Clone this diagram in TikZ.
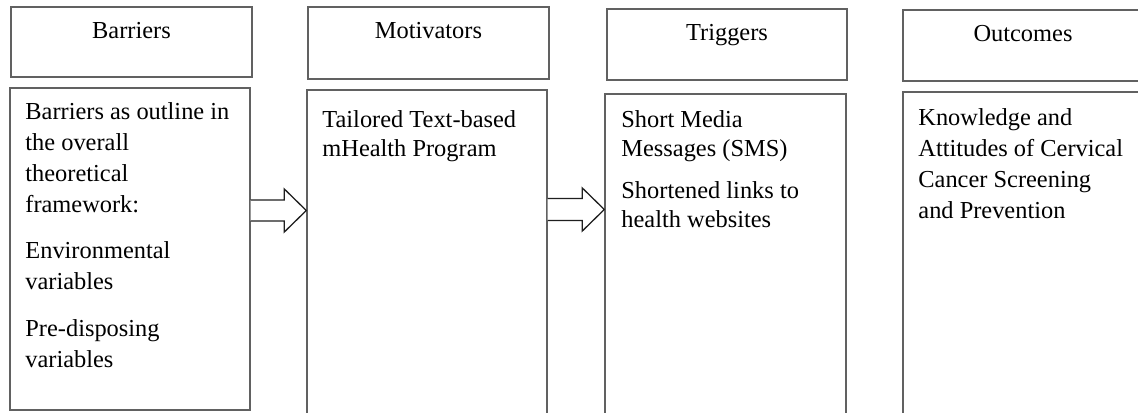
\documentclass[tikz,border=0pt]{standalone}
\usepackage{fontspec}
\setmainfont{Liberation Serif}
\usetikzlibrary{fit,calc}
\newcommand\txtsize{\fontsize{12.2}{15.5}\selectfont}
\newcommand\txtsizeb{\fontsize{12.2}{14.5}\selectfont}
\tikzset{
  box/.style={draw=black!62, line width=0.7pt, inner sep=0pt},
  hdr/.style={font=\txtsize, anchor=base, inner sep=0pt},
  body/.style={font=\txtsize, align=left, anchor=north west, inner sep=0pt},
  bodyb/.style={body, font=\txtsizeb},
  blockarrow/.style={draw=black!88, line width=0.65pt, line join=miter, fill=white}
}
\begin{document}
\begin{tikzpicture}[x=0.5pt,y=-0.5pt]
\path[use as bounding box, clip] (0,0) rectangle (1138,412);
\fill[white] (0,0) rectangle (1138,412);
% header boxes
\node[box, fit={(11,7) (252,77)}] (h1) {};
\node[box, fit={(308,7) (549,79)}] (h2) {};
\node[box, fit={(607,9) (847,80)}] (h3) {};
\node[box, fit={(903,10) (1143,81)}] (h4) {};
\node[hdr] (h1t) at (131.5,38) {Barriers};
\node[hdr] (h2t) at (428.5,39) {Motivators};
\node[hdr] (h3t) at (727,40) {Triggers};
\node[hdr] (h4t) at (1023,41) {Outcomes};
% content boxes
\node[box, fit={(10,88) (250,410)}] (b1) {};
\node[box, fit={(307,90) (547,430)}] (b2) {};
\node[box, fit={(605,94) (846,430)}] (b3) {};
\node[box, fit={(903,92) (1143,430)}] (b4) {};
\node[body] (b1t) at (25,102.3) {Barriers as outline in\\the overall\\theoretical\\framework:\\[7.5pt]Environmental\\variables\\[8pt]Pre-disposing\\variables};
\node[bodyb] (b2t) at (322,110.5) {Tailored Text-based\\mHealth Program};
\node[bodyb] (b3t) at (621,110.5) {Short Media\\Messages (SMS)\\[6.5pt]Shortened links to\\health websites};
\node[body] (b4t) at (918,108) {Knowledge and\\Attitudes of Cervical\\Cancer Screening\\and Prevention};
% block arrows
\coordinate (a1s) at (b1.east |- 0,210.5);
\coordinate (a1e) at (b2.west |- 0,210.5);
\draw[blockarrow] ($(a1s)+(0,-10.5)$) -- ($(a1e)+(-22,-10.5)$) -- ($(a1e)+(-22,-21.5)$) -- (a1e) -- ($(a1e)+(-22,21.5)$) -- ($(a1e)+(-22,10.5)$) -- ($(a1s)+(0,10.5)$);
\coordinate (a2s) at (b2.east |- 0,209.5);
\coordinate (a2e) at (b3.west |- 0,209.5);
\draw[blockarrow] ($(a2s)+(0,-11)$) -- ($(a2e)+(-22,-11)$) -- ($(a2e)+(-22,-21.5)$) -- (a2e) -- ($(a2e)+(-22,21.5)$) -- ($(a2e)+(-22,11)$) -- ($(a2s)+(0,11)$);
\end{tikzpicture}
\end{document}
